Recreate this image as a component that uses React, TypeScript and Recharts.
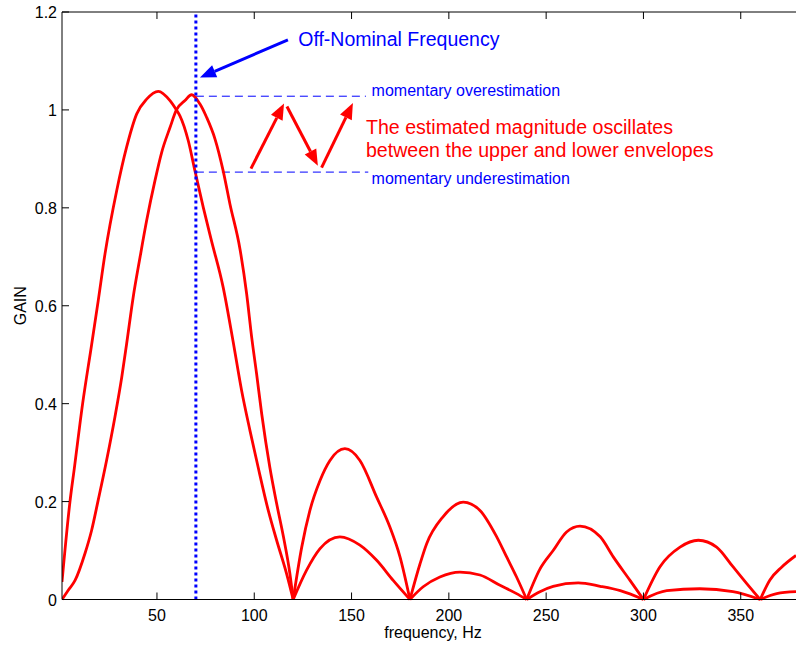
import React from 'react';
import { LineChart, Line, XAxis, YAxis, ReferenceLine, ReferenceDot } from 'recharts';

// curve with the main lobe peaking near 50 Hz (larger side lobes)
const freqA = [
  1.2, 5.3, 7.6, 11.8, 16.4, 19.8, 23.3, 29.3, 34.4, 39.6, 44.7, 50.7, 56.7, 60, 61.8, 66.1, 69.5, 73.8, 78, 84,
  89, 93.5, 97.8, 102, 107.2, 111.5, 116.6, 120,
  124.4, 128.6, 133.8, 138.9, 146.6, 154.3, 162.9, 169.7, 174.9, 180,
  185.2, 188.6, 197, 207.4, 216, 224.6, 229.7, 234.8, 240,
  246.8, 253.6, 260.5, 267.4, 277.8, 284.5, 293.1, 300,
  308.5, 318.8, 328.2, 337.6, 346, 353, 360,
  365, 371, 378.4,
];
const gainA = [
  0.036, 0.2, 0.27, 0.4, 0.52, 0.61, 0.706, 0.835, 0.924, 0.992, 1.022, 1.038, 1.019, 1.0, 0.988, 0.937, 0.876, 0.801, 0.733, 0.638,
  0.53, 0.427, 0.345, 0.27, 0.182, 0.121, 0.053, 0,
  0.107, 0.182, 0.243, 0.284, 0.308, 0.284, 0.209, 0.148, 0.087, 0,
  0.073, 0.114, 0.169, 0.199, 0.182, 0.128, 0.087, 0.046, 0,
  0.062, 0.1, 0.138, 0.15, 0.128, 0.087, 0.039, 0,
  0.067, 0.107, 0.121, 0.107, 0.067, 0.033, 0,
  0.04, 0.066, 0.09,
];

// curve with the main lobe peaking near 68 Hz (smaller side lobes)
const freqB = [
  1.2, 4.4, 7.9, 13, 16.4, 19.8, 24.1, 28.4, 31.9, 34.4, 37.8, 41.3, 44.7, 49, 52.4, 56.7, 60, 64.4, 67.8, 72.1,
  75.5, 79.8, 84, 87.5, 92.7, 96.1, 98.7, 101.2, 103.8, 108, 111.5, 115, 118.3, 120,
  126.9, 133.8, 144, 154.3, 162.9, 171.4, 180,
  186.8, 195.4, 205.7, 216, 226.3, 234.8, 240,
  246.8, 253.6, 266.5, 277.8, 288.1, 300,
  312, 329, 346, 360,
  368.5, 378.4,
];
const gainB = [
  0, 0.019, 0.039, 0.094, 0.141, 0.203, 0.284, 0.373, 0.454, 0.522, 0.618, 0.699, 0.774, 0.856, 0.913, 0.964, 1.0, 1.019, 1.031, 1.012,
  0.985, 0.941, 0.876, 0.808, 0.715, 0.624, 0.535, 0.461, 0.38, 0.27, 0.196, 0.128, 0.053, 0,
  0.06, 0.104, 0.128, 0.111, 0.08, 0.039, 0,
  0.026, 0.046, 0.056, 0.05, 0.029, 0.012, 0,
  0.016, 0.027, 0.034, 0.027, 0.018, 0,
  0.018, 0.022, 0.016, 0,
  0.012, 0.016,
];

const xTicks = [50, 100, 150, 200, 250, 300, 350];
const yTicks = [0, 0.2, 0.4, 0.6, 0.8, 1, 1.2];
const offNominalHz = 70;
const overLevel = 1.028;
const underLevel = 0.873;

// cut a curve at its interior zeros so every lobe keeps a sharp notch
function lobes(freq: number[], gain: number[]) {
  const out: { f: number; g: number }[][] = [];
  let cur: { f: number; g: number }[] = [];
  freq.forEach((f, i) => {
    cur.push({ f, g: gain[i] });
    if (gain[i] === 0 && i > 0 && i < freq.length - 1) {
      out.push(cur);
      cur = [{ f, g: gain[i] }];
    }
  });
  out.push(cur);
  return out;
}

const lobesA = lobes(freqA, gainA);
const lobesB = lobes(freqB, gainB);

const FONT = '"Liberation Sans", Arial, Helvetica, sans-serif';
const BLUE = '#0000ff';
const RED = '#ff0000';

function BottomTick({ x, y, payload }: any) {
  return (
    <g>
      <line x1={x} y1={y} x2={x} y2={y - 7} stroke="#000" />
      <text x={x} y={y + 21} textAnchor="middle" fontSize={16} fontFamily={FONT} fill="#000">
        {payload.value}
      </text>
    </g>
  );
}

function TopTick({ x, y }: any) {
  return <line x1={x} y1={y} x2={x} y2={y + 7} stroke="#000" />;
}

function LeftTick({ x, y, payload }: any) {
  return (
    <g>
      <line x1={x} y1={y} x2={x + 7} y2={y} stroke="#000" />
      <text x={x - 5} y={y + 6} textAnchor="end" fontSize={16} fontFamily={FONT} fill="#000">
        {payload.value}
      </text>
    </g>
  );
}

function arrow(color: string) {
  return (p: any) => {
    const { x1, y1, x2, y2 } = p;
    const len = Math.hypot(x2 - x1, y2 - y1);
    const ux = (x2 - x1) / len;
    const uy = (y2 - y1) / len;
    const bx = x2 - ux * 16;
    const by = y2 - uy * 16;
    const px = -uy * 6.5;
    const py = ux * 6.5;
    return (
      <g>
        <line x1={x1} y1={y1} x2={bx} y2={by} stroke={color} strokeWidth={3} />
        <polygon points={`${x2},${y2} ${bx + px},${by + py} ${bx - px},${by - py}`} fill={color} />
      </g>
    );
  };
}

function note(text: string, color: string, size: number) {
  return (p: any) => (
    <text x={p.cx} y={p.cy} fontSize={size} fontFamily={FONT} fill={color}>
      {text}
    </text>
  );
}

export default function App() {
  return (
    <div style={{ position: 'absolute', left: 0, top: 0, width: 796, height: 648, background: '#fff' }}>
      <LineChart width={796} height={648} margin={{ top: 0, right: 0, bottom: 0, left: 0 }}>
        <XAxis
          type="number"
          dataKey="f"
          domain={[1.2, 378.4]}
          allowDataOverflow
          ticks={xTicks}
          height={48.5}
          stroke="#000"
          tickLine={false}
          tickSize={0}
          tickMargin={0}
          tick={<BottomTick />}
          label={{
            content: ({ viewBox }: any) => (
              <text
                x={viewBox.x + viewBox.width / 2 + 4}
                y={638}
                textAnchor="middle"
                fontSize={16}
                fontFamily={FONT}
                fill="#000"
              >
                frequency, Hz
              </text>
            ),
          }}
        />
        <XAxis
          xAxisId="top"
          orientation="top"
          type="number"
          dataKey="f"
          domain={[1.2, 378.4]}
          allowDataOverflow
          ticks={xTicks}
          height={12}
          stroke="#000"
          tickLine={false}
          tickSize={0}
          tickMargin={0}
          tick={<TopTick />}
        />
        <YAxis
          type="number"
          domain={[0, 1.2]}
          ticks={yTicks}
          width={62}
          stroke="#000"
          tickLine={false}
          tickSize={0}
          tickMargin={0}
          tick={<LeftTick />}
          label={{
            content: ({ viewBox }: any) => (
              <text
                transform={`translate(25.5, ${viewBox.y + viewBox.height / 2}) rotate(-90)`}
                textAnchor="middle"
                fontSize={16}
                fontFamily={FONT}
                fill="#000"
              >
                GAIN
              </text>
            ),
          }}
        />
        <ReferenceLine
          segment={[{ x: offNominalHz, y: overLevel }, { x: 157.4, y: overLevel }]}
          stroke={BLUE}
          strokeWidth={1}
          strokeDasharray="8 5"
        />
        <ReferenceLine
          segment={[{ x: offNominalHz, y: underLevel }, { x: 158.6, y: underLevel }]}
          stroke={BLUE}
          strokeWidth={1}
          strokeDasharray="8 5"
        />
        {[...lobesA, ...lobesB].map((d, i) => (
          <Line
            key={i}
            data={d}
            dataKey="g"
            type="monotone"
            stroke={RED}
            strokeWidth={2.8}
            strokeLinejoin="round"
            dot={false}
            isAnimationActive={false}
          />
        ))}
        <ReferenceLine x={offNominalHz} stroke={BLUE} strokeWidth={3} strokeDasharray="3 3" />
        <ReferenceLine segment={[{ x: 117.3, y: 1.143 }, { x: 72.1, y: 1.066 }]} shape={arrow(BLUE)} />
        <ReferenceLine segment={[{ x: 98.3, y: 0.88 }, { x: 115.3, y: 1.013 }]} shape={arrow(RED)} />
        <ReferenceLine segment={[{ x: 116.8, y: 1.007 }, { x: 132.7, y: 0.886 }]} shape={arrow(RED)} />
        <ReferenceLine segment={[{ x: 134.6, y: 0.882 }, { x: 150.7, y: 1.014 }]} shape={arrow(RED)} />
        <ReferenceDot x={122.6} y={1.131} r={0} shape={note('Off-Nominal Frequency', BLUE, 19.5)} />
        <ReferenceDot x={160.3} y={1.029} r={0} shape={note('momentary overestimation', BLUE, 16)} />
        <ReferenceDot x={160.3} y={0.849} r={0} shape={note('momentary underestimation', BLUE, 16)} />
        <ReferenceDot x={157.4} y={0.951} r={0} shape={note('The estimated magnitude oscillates', RED, 19.6)} />
        <ReferenceDot x={157.4} y={0.904} r={0} shape={note('between the upper and lower envelopes', RED, 19.6)} />
      </LineChart>
    </div>
  );
}
